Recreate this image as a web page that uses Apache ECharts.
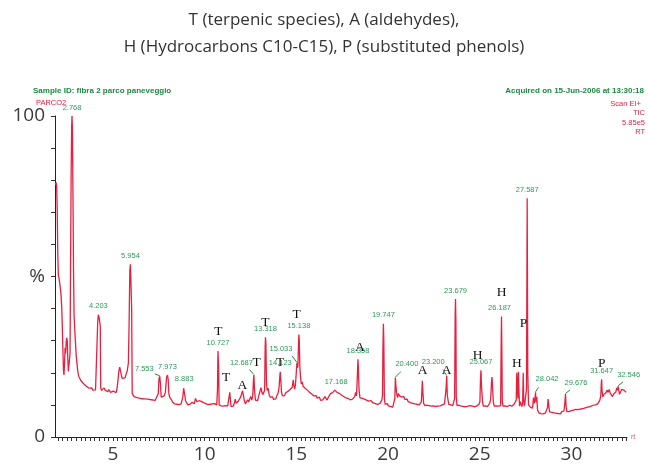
<!DOCTYPE html>
<html>
<head>
<meta charset="utf-8">
<script src="https://cdn.jsdelivr.net/npm/echarts@6/dist/echarts.min.js"></script>
<style>
  html, body { margin: 0; padding: 0; background: #fff; }
  #chart { width: 648px; height: 464px; }
</style>
</head>
<body>
<div id="chart"></div>
<script>
// Total ion chromatogram, retention time (min) vs relative intensity (%)
const tic = [
  [1.86, 78.5], [1.90, 79.3], [1.93, 78.2], [1.96, 71], [1.99, 58], [2.02, 50.4], [2.06, 49.5], [2.10, 48.9],
  [2.14, 46], [2.17, 44.2], [2.21, 40], [2.24, 34], [2.27, 27], [2.30, 21], [2.33, 19.3], [2.36, 23],
  [2.39, 27.8], [2.42, 26], [2.45, 29.5], [2.48, 30.9], [2.51, 29.8], [2.54, 24], [2.57, 20.4], [2.60, 20.1],
  [2.63, 21], [2.66, 26], [2.69, 55], [2.72, 82], [2.75, 97], [2.768, 100], [2.79, 96], [2.82, 75],
  [2.85, 52], [2.88, 38], [2.92, 33], [2.96, 29], [3.00, 25], [3.03, 23.5], [3.07, 21], [3.11, 19.5],
  [3.15, 18.7], [3.20, 18.2], [3.25, 17.6], [3.30, 17.9], [3.35, 17.3], [3.40, 16.6], [3.45, 16.2], [3.50, 16.4],
  [3.55, 15.8], [3.60, 15.5], [3.65, 15.9], [3.70, 15.2], [3.75, 15.4], [3.80, 14.9], [3.85, 15.3], [3.90, 14.6],
  [3.95, 14.8], [4.00, 14.4], [4.05, 14.7], [4.10, 14.2], [4.14, 14.5], [4.17, 36], [4.203, 38.1], [4.24, 37.4],
  [4.28, 36.8], [4.31, 34.5], [4.33, 15.5], [4.37, 14.5], [4.42, 14.9], [4.47, 14.2], [4.52, 15.3], [4.57, 14.6],
  [4.62, 14.0], [4.67, 14.6], [4.72, 14.1], [4.77, 14.8], [4.82, 14.3], [4.87, 13.9], [4.92, 14.5], [4.97, 14.0],
  [5.02, 14.3], [5.07, 13.7], [5.12, 14.2], [5.17, 13.8], [5.22, 15.0], [5.27, 17.5], [5.32, 20.5], [5.37, 21.8],
  [5.41, 21.5], [5.45, 19.5], [5.50, 18.3], [5.55, 18.0], [5.60, 18.6], [5.66, 18.4], [5.72, 19.6], [5.78, 20.6],
  [5.84, 23], [5.88, 35], [5.92, 52], [5.954, 53.8], [5.99, 53.2], [6.02, 40], [6.05, 13.5], [6.09, 12.9],
  [6.15, 12.6], [6.20, 12.4], [6.30, 12.3], [6.40, 12.1], [6.50, 12.0], [6.60, 12.1], [6.70, 11.9], [6.80, 11.8],
  [6.90, 11.8], [7.00, 11.7], [7.10, 11.6], [7.20, 11.6], [7.30, 11.4], [7.40, 11.5], [7.47, 13.5], [7.51, 18.2],
  [7.553, 18.9], [7.59, 16.5], [7.63, 12.4], [7.68, 12.0], [7.73, 12.2], [7.80, 12.8], [7.86, 14], [7.92, 18.5],
  [7.973, 19.3], [8.01, 18.0], [8.05, 13.5], [8.09, 12.4], [8.14, 12.9], [8.19, 11.6], [8.25, 10.9], [8.31, 10.5],
  [8.37, 10.3], [8.43, 10.6], [8.49, 10.2], [8.55, 10.4], [8.61, 10.1], [8.67, 10.5], [8.72, 10.3], [8.76, 10.0],
  [8.81, 12.5], [8.855, 15.2], [8.883, 15.3], [8.92, 13.0], [8.96, 11.2], [9.02, 10.6], [9.08, 10.0], [9.14, 9.8],
  [9.20, 10.2], [9.26, 10.0], [9.32, 10.8], [9.38, 11.0], [9.44, 10.4], [9.50, 12.0], [9.54, 12.4], [9.58, 11.0],
  [9.64, 10.6], [9.70, 11.3], [9.76, 10.9], [9.82, 11.1], [9.88, 10.5], [9.94, 10.7], [10.00, 10.9], [10.06, 10.4],
  [10.12, 10.6], [10.18, 10.1], [10.24, 10.5], [10.30, 10.2], [10.36, 10.7], [10.42, 10.3], [10.48, 10.0], [10.54, 10.4],
  [10.60, 9.9], [10.66, 10.0], [10.70, 15], [10.727, 26.8], [10.76, 22], [10.79, 10.0], [10.84, 9.5], [10.90, 9.7],
  [10.96, 9.3], [11.02, 9.6], [11.08, 9.4], [11.14, 9.8], [11.20, 9.3], [11.26, 9.7], [11.32, 10.2], [11.37, 13.9],
  [11.40, 12.0], [11.44, 9.5], [11.50, 10.1], [11.56, 9.6], [11.62, 10.6], [11.67, 11.8], [11.72, 10.5], [11.78, 10.0],
  [11.84, 11.2], [11.90, 11.6], [11.96, 12.4], [12.02, 13.5], [12.07, 14.4], [12.11, 13.0], [12.16, 11.5], [12.22, 10.3],
  [12.28, 10.8], [12.34, 11.6], [12.40, 10.9], [12.46, 11.9], [12.52, 12.6], [12.57, 11.5], [12.62, 12.8], [12.66, 17.5],
  [12.687, 19.3], [12.72, 14.5], [12.77, 11.5], [12.83, 12.0], [12.89, 11.3], [12.95, 12.8], [13.01, 13.4], [13.07, 15.4],
  [13.12, 14.0], [13.17, 13.2], [13.22, 12.6], [13.27, 14.5], [13.30, 28], [13.318, 31.1], [13.34, 29], [13.37, 17],
  [13.41, 14.5], [13.46, 15.2], [13.52, 13.1], [13.58, 12.4], [13.64, 12.0], [13.70, 12.5], [13.76, 11.7], [13.82, 12.2],
  [13.88, 11.9], [13.94, 12.9], [14.00, 13.6], [14.06, 15.5], [14.10, 19.0], [14.123, 20.3], [14.15, 18.0], [14.19, 14.0],
  [14.24, 12.8], [14.30, 13.4], [14.36, 12.9], [14.42, 13.8], [14.48, 13.3], [14.54, 14.2], [14.60, 14.0], [14.66, 14.8],
  [14.72, 14.4], [14.78, 15.5], [14.83, 17.8], [14.87, 16.0], [14.91, 14.9], [14.95, 16.2], [14.99, 19.5], [15.033, 23.1],
  [15.06, 21.5], [15.09, 22.5], [15.12, 29.5], [15.138, 31.9], [15.16, 30.0], [15.19, 22.0], [15.23, 18.5], [15.27, 16.5],
  [15.32, 17.2], [15.37, 15.8], [15.42, 16.4], [15.48, 15.2], [15.54, 15.7], [15.60, 14.6], [15.66, 15.0], [15.72, 13.9],
  [15.78, 14.3], [15.84, 13.4], [15.90, 13.8], [15.96, 12.8], [16.02, 12.3], [16.08, 12.9], [16.14, 12.1], [16.20, 11.6],
  [16.26, 12.4], [16.32, 11.4], [16.38, 11.0], [16.44, 11.6], [16.50, 11.2], [16.56, 12.6], [16.62, 12.0], [16.68, 11.5],
  [16.74, 12.3], [16.80, 12.9], [16.86, 13.5], [16.92, 13.0], [16.98, 13.8], [17.04, 14.2], [17.10, 14.6], [17.168, 14.4],
  [17.22, 13.9], [17.28, 14.2], [17.34, 13.6], [17.40, 13.8], [17.46, 13.1], [17.52, 13.4], [17.58, 12.6], [17.64, 12.9],
  [17.70, 12.2], [17.76, 11.7], [17.82, 12.0], [17.88, 11.4], [17.94, 11.6], [18.00, 11.1], [18.06, 11.8], [18.12, 11.4],
  [18.18, 12.6], [18.23, 13.9], [18.28, 12.8], [18.33, 19.5], [18.358, 24.2], [18.38, 22.0], [18.42, 14.5], [18.47, 12.2],
  [18.53, 12.8], [18.59, 12.0], [18.65, 12.4], [18.71, 11.8], [18.77, 12.1], [18.83, 11.5], [18.89, 11.7], [18.95, 11.2],
  [19.01, 11.0], [19.07, 11.3], [19.13, 10.8], [19.19, 10.6], [19.25, 10.9], [19.31, 10.4], [19.37, 10.7], [19.43, 10.2],
  [19.49, 10.0], [19.55, 10.4], [19.61, 9.8], [19.66, 11.5], [19.70, 13.0], [19.72, 27], [19.747, 35.3], [19.77, 30],
  [19.80, 12.0], [19.84, 10.2], [19.90, 9.9], [19.96, 10.4], [20.02, 9.7], [20.08, 10.1], [20.14, 9.5], [20.20, 9.8],
  [20.26, 9.3], [20.32, 9.6], [20.37, 12.0], [20.400, 18.5], [20.43, 16.0], [20.47, 13.5], [20.52, 12.3], [20.57, 13.6],
  [20.62, 12.8], [20.68, 13.4], [20.74, 12.5], [20.80, 12.0], [20.86, 12.6], [20.92, 11.7], [20.98, 11.3], [21.04, 11.8],
  [21.10, 11.0], [21.16, 11.4], [21.22, 10.7], [21.28, 11.1], [21.34, 10.5], [21.40, 10.9], [21.46, 10.3], [21.52, 10.8],
  [21.58, 10.2], [21.64, 10.6], [21.70, 10.0], [21.76, 10.4], [21.82, 11.0], [21.85, 15.0], [21.87, 17.5], [21.90, 14.0],
  [21.94, 10.5], [22.00, 9.8], [22.06, 9.5], [22.12, 9.9], [22.18, 9.4], [22.24, 9.8], [22.30, 9.2], [22.36, 9.6],
  [22.42, 9.3], [22.48, 9.7], [22.54, 9.1], [22.60, 9.5], [22.66, 9.2], [22.72, 9.6], [22.78, 9.1], [22.84, 9.7],
  [22.90, 9.4], [22.96, 10.0], [23.02, 9.6], [23.08, 10.3], [23.13, 10.8], [23.17, 15.5], [23.200, 19.0], [23.23, 13.0],
  [23.27, 11.6], [23.31, 10.2], [23.36, 9.7], [23.42, 10.0], [23.48, 9.5], [23.53, 9.8], [23.58, 9.4], [23.63, 12],
  [23.66, 38], [23.679, 43.0], [23.70, 36], [23.72, 12.5], [23.76, 9.8], [23.82, 9.5], [23.88, 9.9], [23.94, 9.3],
  [24.00, 9.6], [24.06, 9.2], [24.12, 9.5], [24.18, 9.0], [24.24, 9.4], [24.30, 9.1], [24.36, 9.6], [24.42, 9.2],
  [24.48, 9.8], [24.54, 9.3], [24.60, 9.6], [24.66, 9.1], [24.72, 9.4], [24.78, 9.2], [24.84, 9.7], [24.90, 9.4],
  [24.96, 10.2], [25.01, 11.0], [25.04, 18.0], [25.067, 20.8], [25.09, 16.5], [25.12, 16.0], [25.15, 11.2], [25.19, 9.6],
  [25.25, 9.3], [25.31, 9.7], [25.37, 9.2], [25.43, 9.5], [25.49, 9.9], [25.55, 10.6], [25.60, 12.0], [25.64, 17.0],
  [25.67, 18.7], [25.70, 15.5], [25.74, 11.0], [25.79, 9.6], [25.85, 9.3], [25.91, 9.7], [25.97, 9.3], [26.03, 9.6],
  [26.09, 9.2], [26.14, 9.8], [26.17, 30], [26.187, 37.5], [26.21, 25], [26.23, 11], [26.27, 9.6], [26.33, 9.3],
  [26.39, 9.7], [26.45, 9.2], [26.51, 9.5], [26.57, 9.4], [26.63, 9.9], [26.69, 9.3], [26.75, 9.6], [26.81, 9.9],
  [26.87, 10.2], [26.93, 10.6], [26.99, 11.5], [27.02, 20.0], [27.05, 20.6], [27.08, 12.0], [27.11, 20.3], [27.14, 14.0],
  [27.17, 9.6], [27.22, 11.0], [27.26, 10.2], [27.30, 9.5], [27.34, 10.5], [27.37, 20.0], [27.40, 11.5], [27.44, 9.6],
  [27.50, 9.8], [27.55, 15], [27.587, 74.4], [27.62, 20], [27.66, 10.0], [27.71, 9.6], [27.77, 9.2], [27.83, 9.5],
  [27.88, 9.0], [27.93, 12.3], [27.97, 10.5], [28.01, 11.8], [28.042, 13.9], [28.07, 10.8], [28.11, 12.5], [28.15, 8.5],
  [28.21, 7.6], [28.27, 7.9], [28.33, 7.3], [28.39, 7.6], [28.45, 7.2], [28.51, 7.8], [28.57, 7.4], [28.63, 8.0],
  [28.69, 9.0], [28.73, 11.8], [28.77, 9.5], [28.81, 7.8], [28.87, 7.4], [28.93, 7.7], [28.99, 7.2], [29.05, 7.5],
  [29.11, 7.1], [29.17, 7.4], [29.23, 7.0], [29.29, 7.3], [29.35, 7.6], [29.41, 7.2], [29.47, 7.9], [29.53, 7.4],
  [29.59, 8.1], [29.64, 10.5], [29.676, 13.4], [29.71, 9.5], [29.75, 7.9], [29.81, 7.5], [29.87, 7.9], [29.93, 7.6],
  [29.99, 8.2], [30.05, 7.8], [30.11, 8.4], [30.17, 8.0], [30.23, 8.6], [30.29, 8.1], [30.35, 8.5], [30.41, 8.1],
  [30.47, 8.7], [30.53, 8.3], [30.59, 8.8], [30.65, 8.4], [30.71, 9.0], [30.77, 8.6], [30.83, 9.2], [30.89, 8.8],
  [30.95, 9.4], [31.01, 9.0], [31.07, 9.6], [31.13, 9.3], [31.19, 9.9], [31.25, 9.6], [31.31, 10.0], [31.37, 9.7],
  [31.43, 10.3], [31.49, 10.6], [31.55, 11.5], [31.60, 12.8], [31.63, 17.0], [31.647, 18.0], [31.67, 14.5], [31.71, 12.5],
  [31.76, 13.2], [31.82, 12.6], [31.88, 13.8], [31.94, 14.6], [32.00, 13.9], [32.06, 14.8], [32.12, 13.6], [32.18, 13.0],
  [32.24, 12.6], [32.30, 13.4], [32.36, 12.8], [32.42, 14.0], [32.47, 15.3], [32.52, 14.6], [32.546, 15.8], [32.58, 14.8],
  [32.62, 13.3], [32.68, 13.8], [32.74, 14.8], [32.80, 14.2], [32.86, 14.6], [32.92, 14.0], [32.98, 13.9]
];

// Retention times printed above the peaks
const peakTimes = [2.768, 4.203, 5.954, 7.553, 7.973, 8.883, 10.727, 12.687, 13.318, 14.123, 15.033, 15.138,
  17.168, 18.358, 19.747, 20.400, 23.200, 23.679, 25.067, 26.187, 27.587, 28.042, 29.676, 31.647, 32.546];

// Compound class letters: T terpenic, A aldehyde, H hydrocarbon, P phenol (letter, rt, level %)
const classLetters = ['T', 'T', 'A', 'T', 'T', 'T', 'T', 'A', 'A', 'A', 'H', 'H', 'H', 'P', 'P'];
const classTimes   = [10.75, 11.17, 12.06, 12.84, 13.31, 14.11, 15.02, 18.47, 21.89, 23.20, 24.89, 26.20, 27.02, 27.38, 31.65];
const classLevels  = [32.9, 18.5, 16.0, 23.1, 35.7, 23.1, 38.1, 27.8, 20.6, 20.6, 25.5, 45.0, 22.9, 35.5, 22.9];

const xTickLabels = [5, 10, 15, 20, 25, 30];
const yTickLabels = { 0: '0', 50: '%', 100: '100' };

const title = 'T (terpenic species), A (aldehydes),\nH (Hydrocarbons C10-C15), P (substituted phenols)';
const sampleText = 'Sample ID: fibra 2 parco paneveggio';
const acquiredText = 'Acquired on 15-Jun-2006 at 13:30:18';
const sampleName = 'PARCO2';
const scanInfo = ['Scan EI+', 'TIC', '5.85e5', 'RT'];

// Label placement around each peak top (pixel offsets; optional leader line end)
const peakLabelLayout = {
  7.553:  { dx: -15.5, dy: -3.5, line: [-5, -2.5] },
  12.687: { dx: -12.5, dy: -8.5, line: [-4.5, -5.5] },
  15.033: { dx: -16, dy: -10, line: [-5, -7] },
  20.4:   { dx: 11.5, dy: -10, line: [5.5, -6] },
  23.2:   { dx: -13.5, dy: -10, line: [-4, -6.5] },
  26.187: { dx: -2, dy: -5 },
  28.042: { dx: 11.5, dy: -9, line: [3, -5] },
  29.676: { dx: 10.5, dy: -7.5, line: [4.5, -4] },
  32.546: { dx: 10.5, dy: -7, line: [5, -4.5] }
};

const heightAt = t => {
  const p = tic.find(d => Math.abs(d[0] - t) < 1e-9);
  return p ? p[1] : 0;
};

const minorTicks = [];
for (let v = 2; v <= 33.001; v += 0.25) minorTicks.push(+v.toFixed(2));

const chart = echarts.init(document.getElementById('chart'), null, { renderer: 'canvas' });

const GREEN = '#2f9b57';
const GREEN_DARK = '#1d8a40';
const RED = '#e8203f';

chart.setOption({
  animation: false,
  title: {
    text: title,
    left: 'center',
    top: 2,
    textStyle: { fontFamily: 'Open Sans', fontSize: 17, fontWeight: 'normal', color: '#333', lineHeight: 27 }
  },
  graphic: [
    { type: 'text', left: 33, top: 87, style: { text: sampleText, font: 'bold 8px "Liberation Sans", Arial', fill: GREEN_DARK } },
    { type: 'text', right: 4, top: 87, style: { text: acquiredText, font: 'bold 8px "Liberation Sans", Arial', fill: GREEN_DARK } },
    { type: 'text', left: 36, top: 99, style: { text: sampleName, font: '7.5px "Liberation Sans", Arial', fill: RED } },
    { type: 'text', right: 7, top: 100, style: { text: scanInfo[0], font: '7.5px "Liberation Sans", Arial', fill: RED } },
    { type: 'text', right: 3, top: 109, style: { text: scanInfo[1], font: '7.5px "Liberation Sans", Arial', fill: RED } },
    { type: 'text', right: 3, top: 118.5, style: { text: scanInfo[2], font: '7.5px "Liberation Sans", Arial', fill: RED } },
    { type: 'text', right: 3, top: 128, style: { text: scanInfo[3], font: '7.5px "Liberation Sans", Arial', fill: RED } }
  ],
  grid: { left: 55, right: 21, top: 116, bottom: 24, containLabel: false },
  xAxis: {
    type: 'value',
    min: 1.84,
    max: 33.03,
    name: 'rt',
    nameLocation: 'end',
    nameGap: 4,
    nameTextStyle: { fontFamily: 'Liberation Sans', fontSize: 7, color: '#e0566b', verticalAlign: 'middle' },
    splitLine: { show: false },
    axisLine: { show: true, lineStyle: { color: '#222', width: 1 } },
    axisTick: { show: true, customValues: minorTicks, length: 4, lineStyle: { color: '#333', width: 1 } },
    axisLabel: {
      customValues: xTickLabels,
      margin: 8,
      fontFamily: 'Open Sans',
      fontSize: 19,
      color: '#3a3a3a'
    }
  },
  yAxis: {
    type: 'value',
    min: 0,
    max: 100,
    interval: 10,
    splitLine: { show: false },
    axisLine: { show: true, lineStyle: { color: '#222', width: 1 } },
    axisTick: { show: true, length: 4, lineStyle: { color: '#333', width: 1 } },
    axisLabel: {
      margin: 10,
      fontFamily: 'Open Sans',
      fontSize: 19,
      color: '#3a3a3a',
      formatter: v => (yTickLabels[v] !== undefined ? yTickLabels[v] : '')
    }
  },
  series: [
    {
      name: 'TIC',
      type: 'line',
      data: tic,
      showSymbol: false,
      symbol: 'none',
      lineStyle: { color: RED, width: 1.3 },
      z: 3
    },
    {
      name: 'retention times',
      type: 'custom',
      coordinateSystem: 'cartesian2d',
      silent: true,
      z: 5,
      data: peakTimes.map(t => [t, heightAt(t)]),
      renderItem: (params, api) => {
        const t = api.value(0);
        const p = api.coord([t, api.value(1)]);
        const lay = peakLabelLayout[t] || { dx: 0, dy: -4.5 };
        const children = [];
        if (lay.line) {
          children.push({
            type: 'line',
            shape: { x1: p[0], y1: p[1] - 0.5, x2: p[0] + lay.line[0], y2: p[1] + lay.line[1] },
            style: { stroke: GREEN_DARK, lineWidth: 1 }
          });
        }
        children.push({
          type: 'text',
          x: p[0] + lay.dx,
          y: p[1] + lay.dy,
          style: {
            text: t.toFixed(3),
            font: '7.5px "Liberation Sans", Arial',
            fill: GREEN,
            align: 'center',
            verticalAlign: 'bottom'
          }
        });
        return { type: 'group', children };
      }
    },
    {
      name: 'classes',
      type: 'custom',
      coordinateSystem: 'cartesian2d',
      silent: true,
      z: 6,
      data: classTimes.map((t, i) => [t, classLevels[i]]),
      renderItem: (params, api) => {
        const p = api.coord([api.value(0), api.value(1)]);
        return {
          type: 'text',
          x: p[0],
          y: p[1],
          style: {
            text: classLetters[params.dataIndex],
            font: '13.5px "Liberation Serif", "DejaVu Serif", serif',
            fill: '#111',
            align: 'center',
            verticalAlign: 'middle'
          }
        };
      }
    }
  ]
});
</script>
</body>
</html>
